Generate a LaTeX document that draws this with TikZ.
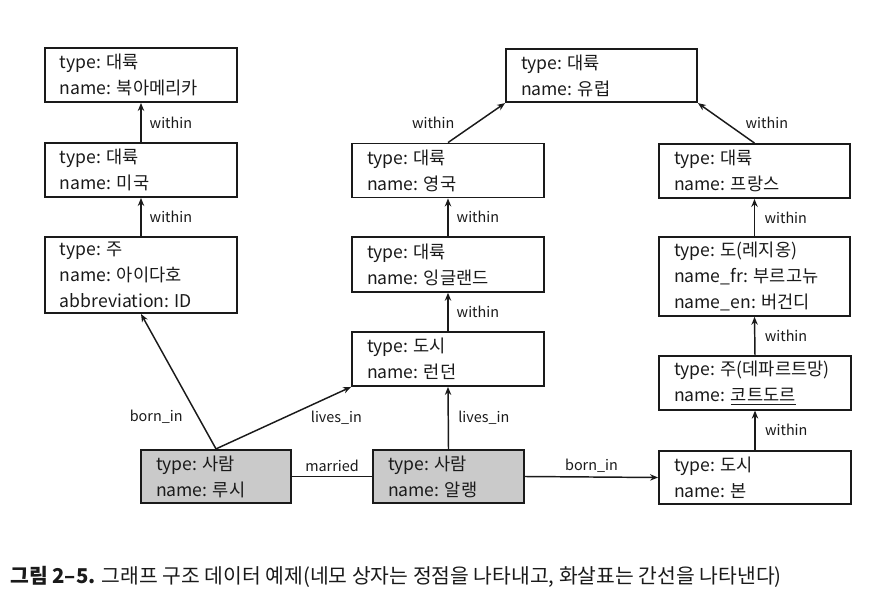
\documentclass[tikz,border=0pt]{standalone}
\usepackage{fontspec}
\setmainfont{Noto Sans CJK KR}
\newfontfamily\boxfont{Noto Sans CJK KR}
\newcommand\cl{:\kern0.3em}
\usetikzlibrary{arrows.meta}
\definecolor{ink}{HTML}{1A1A1A}
\definecolor{boxgray}{HTML}{CACACA}
\tikzset{
  vbox/.style={draw=ink, line width=1.4pt, rectangle, align=left, inner xsep=11.25pt, inner ysep=0pt,
    font=\boxfont\fontsize{13.2}{19.5}\selectfont, text=ink, anchor=center},
  person/.style={vbox, fill=boxgray},
  arr/.style={draw=ink, line width=1.1pt, -{Stealth[length=6pt,width=4.8pt]}},
  plainline/.style={draw=ink, line width=1.1pt},
  lbl/.style={font=\fontsize{10.8}{12}\selectfont, text=ink, inner sep=1pt},
}
\begin{document}
\begin{tikzpicture}[x=0.75pt,y=-0.75pt]
\useasboundingbox (0,0) rectangle (869,603);
% vertices
\node[vbox, text width=121.5pt, minimum width=144pt, minimum height=40.5pt] (na) at (141,75) {type\cl 대륙\\name\cl 북아메리카};
\node[vbox, text width=121.5pt, minimum width=144pt, minimum height=40.5pt] (us) at (141,170) {type\cl 대륙\\name\cl 미국};
\node[vbox, text width=121.5pt, minimum width=144pt, minimum height=57pt] (id) at (141,275) {type\cl 주\\name\cl 아이다호\\abbreviation\cl ID};
\node[vbox, text width=120.75pt, minimum width=143.25pt, minimum height=40pt] (eu) at (601.5,75.5) {type\cl 대륙\\name\cl 유럽};
\node[vbox, text width=121.5pt, minimum width=144pt, minimum height=40.5pt] (uk) at (448,170.5) {type\cl 대륙\\name\cl 영국};
\node[vbox, text width=120.75pt, minimum width=143.25pt, minimum height=40.5pt] (fr) at (754.5,171) {type\cl 대륙\\name\cl 프랑스};
\node[vbox, text width=121.5pt, minimum width=144pt, minimum height=41pt] (en) at (448,264.5) {type\cl 대륙\\name\cl 잉글랜드};
\node[vbox, text width=120.75pt, minimum width=143.25pt, minimum height=59pt] (rg) at (754.5,276.5) {type\cl 도(레지옹)\\name\_fr\cl 부르고뉴\\name\_en\cl 버건디};
\node[vbox, text width=121.5pt, minimum width=144pt, minimum height=40.5pt] (ld) at (448,359) {type\cl 도시\\name\cl 런던};
\node[vbox, text width=121.5pt, minimum width=144pt, minimum height=40pt] (cd) at (755,383) {type\cl 주(데파르트망)\\name\cl \underline{코트도르}};
\node[person, text width=90pt, minimum width=112.5pt, minimum height=40pt] (lucy) at (216,476.5) {type\cl 사람\\name\cl 루시};
\node[person, text width=90.75pt, minimum width=113.25pt, minimum height=40pt] (alain) at (448.5,476.5) {type\cl 사람\\name\cl 알랭};
\node[vbox, text width=121.5pt, minimum width=144pt, minimum height=40pt] (bonn) at (755,477.5) {type\cl 도시\\name\cl 본};
% edges
\draw[arr] (us.north) -- (na.south) node[midway, lbl, right=5pt] {within};
\draw[arr] (id.north) -- (us.south) node[midway, lbl, right=5pt] {within};
\draw[arr] (uk.north) -- (eu.south west) node[midway, lbl, left=15pt] {within};
\draw[arr] (fr.north) -- (eu.south east) node[midway, lbl, right=13pt] {within};
\draw[arr] (en.north) -- (uk.south) node[midway, lbl, right=5pt] {within};
\draw[arr] (ld.north) -- (en.south) node[midway, lbl, right=5pt] {within};
\draw[arr] (rg.north) -- (fr.south) node[midway, lbl, right=6pt] {within};
\draw[arr] (cd.north) -- (rg.south) node[midway, lbl, right=6pt] {within};
\draw[arr] (bonn.north) -- (cd.south) node[midway, lbl, right=6pt] {within};
\draw[arr] (lucy.north) -- (id.south) node[pos=0.24, lbl, left=10pt] {born\_in};
\draw[arr] (lucy.north) -- (ld.south west) node[pos=0.5, lbl, right=19pt] {lives\_in};
\draw[arr] (alain.north) -- (ld.south) node[midway, lbl, right=6pt] {lives\_in};
\draw[plainline] (lucy.east) -- (alain.west) node[midway, lbl, above=2pt] {married};
\draw[arr] (alain.east) -- (bonn.west) node[midway, lbl, above=2pt] {born\_in};
% caption
\node[anchor=west, inner sep=0pt, text=ink, font=\fontsize{15.3}{17}\selectfont] (cap) at (10,577)
  {\textbf{그림 2–5.} 그래프 구조 데이터 예제(네모 상자는 정점을 나타내고, 화살표는 간선을 나타낸다)};
\end{tikzpicture}
\end{document}
